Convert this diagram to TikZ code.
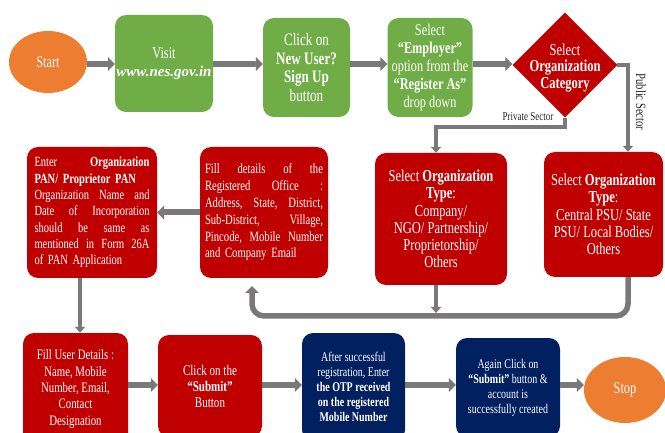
\documentclass[tikz,border=0pt]{standalone}
\usepackage{fontspec}
\setmainfont{Liberation Serif}[FakeStretch=0.75]
\newfontfamily\widefont{Liberation Serif}
\usetikzlibrary{shapes.geometric,arrows.meta,calc}
\definecolor{gr}{RGB}{112,173,71}
\definecolor{rd}{RGB}{192,0,0}
\definecolor{nv}{RGB}{0,32,96}
\definecolor{orn}{RGB}{237,125,49}
\definecolor{ag}{RGB}{122,120,120}
\newcommand\jl[2]{\leavevmode\hbox to #1{#2}\\}
\begin{document}
\begin{tikzpicture}[x=1pt,y=-1pt,
  box/.style={rounded corners=11pt, text=white, align=center, inner sep=0pt,
    font=\fontsize{16.4}{17}\selectfont},
  gbox/.style={box, fill=gr},
  rbox/.style={box, fill=rd},
  nbox/.style={box, fill=nv},
  oval/.style={ellipse, fill=orn, text=white, inner sep=0pt,
    font=\fontsize{16.4}{17}\selectfont},
  arr/.style={draw=ag, line width=6pt, -{Triangle[width=14pt,length=7pt]}},
  thinarr/.style={draw=ag, line width=4pt, -{Triangle[width=10pt,length=6pt]}},
  lab/.style={font=\fontsize{12}{13}\selectfont, text=black!85}]
\clip (0,0) rectangle (665,433);
\fill[white] (0,0) rectangle (665,433);
% helper coordinates
\coordinate (topy) at (0,64);
\coordinate (rowy) at (0,385);
\coordinate (px) at (436,0);
\coordinate (qx) at (628,0);
\coordinate (fx) at (252,0);
\coordinate (vx) at (80,0);
\coordinate (ly) at (0,316);
\coordinate (pry) at (0,127);
% top row
\node[oval, minimum width=78pt, minimum height=62pt] (start) at (48,62) {Start};
\node[gbox, minimum width=98pt, minimum height=97pt] (visit) at (164,63.5)
  {Visit\\[1pt]{\widefont\fontsize{15}{17}\selectfont\textbf{\textit{www.nes.gov.in}}}};
\node[gbox, minimum width=87pt, minimum height=99pt,
  font=\fontsize{17.5}{18.5}\selectfont] (newuser) at (306.5,67.5)
  {Click on\\\textbf{New User?}\\\textbf{Sign Up}\\button};
\node[gbox, minimum width=85pt, minimum height=99pt,
  font=\fontsize{16.4}{18}\selectfont] (employer) at (430,67.5)
  {Select\\\textbf{“Employer”}\\option from the\\\textbf{“Register As”}\\drop down};
\node[diamond, fill=rd, minimum width=105pt, minimum height=105pt, inner sep=0pt] (cat) at (565,65) {};
\node[text=white, align=center, font=\fontsize{16.7}{16.8}\selectfont] (catlabel) at (565,68)
  {Select\\\textbf{Organization}\\\textbf{Category}};
% middle row
\node[rbox, minimum width=132pt, minimum height=132pt,
  font=\fontsize{16.7}{17.3}\selectfont] (priv) at (441,219)
  {Select \textbf{Organization}\\\textbf{Type}:\\Company/\\NGO/ Partnership/\\Proprietorship/\\Others};
\node[rbox, minimum width=119pt, minimum height=125pt,
  font=\fontsize{16.7}{17.3}\selectfont] (pub) at (603.5,214.5)
  {Select \textbf{Organization}\\\textbf{Type}:\\Central PSU/ State\\PSU/ Local Bodies/\\Others};
\node[rbox, minimum width=128pt, minimum height=131pt, text width=118pt, align=left,
  font=\fontsize{14.2}{16.8}\selectfont] (fill) at (264,212.5)
  {\jl{118pt}{Fill\hfill details\hfill of\hfill the}%
   \jl{118pt}{Registered\hfill Office\hfill :}%
   \jl{118pt}{Address,\hfill State,\hfill District,}%
   \jl{118pt}{Sub-District,\hfill Village,}%
   \jl{118pt}{Pincode,\hfill Mobile\hfill Number}%
   and Company Email};
\node[rbox, minimum width=130pt, minimum height=131pt, text width=115pt, align=left,
  font=\fontsize{14}{16.3}\selectfont] (pan) at (92,212.5)
  {\jl{115pt}{Enter\hfill\textbf{Organization}}%
   \textbf{PAN/ Proprietor PAN}\\
   \jl{115pt}{Organization\hfill Name\hfill and}%
   \jl{115pt}{Date\hfill of\hfill Incorporation}%
   \jl{115pt}{should\hfill be\hfill same\hfill as}%
   \jl{115pt}{mentioned\hfill in\hfill Form\hfill 26A}%
   of PAN Application};
% bottom row
\node[rbox, minimum width=105pt, minimum height=112pt,
  font=\fontsize{14.4}{16.3}\selectfont] (user) at (75.5,389)
  {Fill User Details :\\Name, Mobile\\Number, Email,\\Contact\\Designation};
\node[rbox, minimum width=104pt, minimum height=102pt,
  font=\fontsize{14.7}{16}\selectfont] (submit) at (210,386)
  {Click on the\\\textbf{“Submit”}\\Button};
\node[nbox, minimum width=103pt, minimum height=108pt,
  font=\fontsize{13.3}{15}\selectfont] (otp) at (353.5,387)
  {After successful\\registration, Enter\\\textbf{the OTP received}\\\textbf{on the registered}\\\textbf{Mobile Number}};
\node[nbox, minimum width=104pt, minimum height=99pt,
  font=\fontsize{13.3}{15}\selectfont] (again) at (508,387.5)
  {Again Click on\\\textbf{“Submit”} button \&\\account is\\successfully created};
\node[oval, minimum width=82pt, minimum height=66pt] (stop) at (625,390) {Stop};
% connectors
\draw[arr] (start.east |- topy) -- (visit.west |- topy);
\draw[arr] (visit.east |- topy) -- (newuser.west |- topy);
\draw[arr] (newuser.east |- topy) -- (employer.west |- topy);
\draw[arr] (employer.east |- topy) -- (cat.west |- topy);
\draw[thinarr] (cat.south) -- (cat.south |- pry) -- (pry -| px) -- (priv.north -| px);
\draw[thinarr] ($(cat.east)+(-1,0)$) -| (pub.north -| qx);
\draw[thinarr, shorten >=3pt] (priv.south -| px) -- (ly -| px);
\draw[arr, line width=5.5pt, rounded corners=12pt, shorten >=8pt] (pub.south -| qx) |- (ly -| fx) -- (fill.south -| fx);
\draw[arr] (fill.west) -- (pan.east);
\draw[thinarr] (pan.south -| vx) -- (user.north -| vx);
\draw[arr] (user.east |- rowy) -- (submit.west |- rowy);
\draw[arr] (submit.east |- rowy) -- (otp.west |- rowy);
\draw[arr] (otp.east |- rowy) -- (again.west |- rowy);
\draw[arr] (again.east |- rowy) -- (stop.west |- rowy);
% labels
\node[lab] (privlab) at (528,117) {Private Sector};
\node[lab, rotate=-90, font=\fontsize{14.1}{15}\selectfont] (publab) at (641,102) {Public Sector};
\end{tikzpicture}
\end{document}
